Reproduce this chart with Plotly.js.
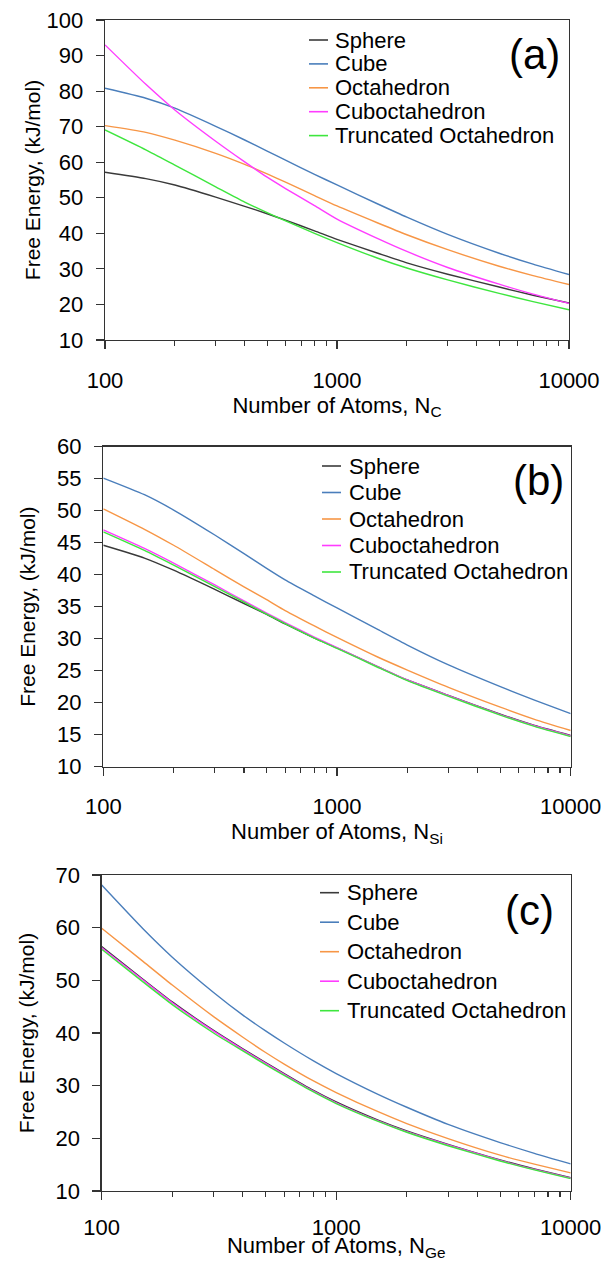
<!DOCTYPE html>
<html><head><meta charset="utf-8">
<script src="https://cdn.plot.ly/plotly-3.0.1.min.js"></script>
<style>html,body{margin:0;padding:0;background:#fff;overflow:hidden}</style>
</head><body><div id="chart" style="width:602px;height:1261px"></div>
<script>
// ---- data ----
const atoms = [100,150,200,300,400,500,600,800,1000,1500,2000,3000,5000,7000,10000];
const seriesNames = ['Sphere','Cube','Octahedron','Cuboctahedron','Truncated Octahedron'];

// (a) carbon
const sphereA = [57.2,55.4,53.6,50.2,47.6,45.5,43.7,40.7,38.3,34.4,31.7,28.5,24.9,22.6,20.4];
const cubeA   = [80.8,78.0,75.2,70.1,66.25,63.15,60.6,56.6,53.6,48.25,44.55,39.7,34.4,31.35,28.4];
const octA    = [70.3,68.4,66.2,62.5,59.4,56.7,54.4,50.6,47.7,42.9,39.6,35.4,30.75,28.1,25.6];
const cuboA   = [93.0,81.9,74.7,65.9,60.1,55.8,52.6,47.8,44.0,38.5,34.9,30.4,25.7,22.9,20.3];
const truncA  = [69.1,63.5,59.2,53.1,48.8,45.8,43.5,40.0,37.4,33.0,30.25,26.9,23.1,20.8,18.5];

// (b) silicon
const sphereB = [44.6,42.6,40.7,37.7,35.5,33.8,32.3,30.1,28.55,25.6,23.55,21.15,18.2,16.45,14.9];
const cubeB   = [55.1,52.5,50.1,46.2,43.3,41.0,39.2,36.7,34.8,31.4,29.0,25.9,22.5,20.4,18.3];
const octB    = [50.3,47.1,44.6,40.8,38.1,36.1,34.4,32.0,30.2,27.1,25.1,22.4,19.3,17.4,15.65];
const cuboB   = [47.0,44.1,41.8,38.4,35.9,34.0,32.5,30.25,28.6,25.6,23.55,21.1,18.15,16.4,14.8];
const truncB  = [46.7,43.8,41.5,38.15,35.7,33.85,32.35,30.1,28.5,25.5,23.45,21.0,18.05,16.3,14.7];

// (c) germanium
const sphereC = [56.4,50.2,45.9,40.5,37.0,34.4,32.3,29.1,26.9,23.5,21.4,18.85,15.9,14.2,12.55];
const cubeC   = [68.1,59.8,54.4,47.7,43.4,40.4,38.1,34.7,32.3,28.4,25.9,22.65,19.2,17.15,15.15];
const octC    = [59.9,53.6,49.1,43.1,39.2,36.3,34.1,30.9,28.7,25.1,22.8,19.95,16.8,15.1,13.45];
const cuboC   = [56.2,50.05,45.75,40.35,36.85,34.25,32.15,28.95,26.75,23.35,21.25,18.75,15.8,14.1,12.45];
const truncC  = [55.9,49.7,45.4,40.0,36.6,34.0,31.95,28.8,26.6,23.25,21.15,18.6,15.7,14.0,12.35];

const xTickVals = [100,1000,10000];
const xTickText = ['100','1000','10000'];
const panelLabels = ['(a)','(b)','(c)'];
const xTitles = ['Number of Atoms, N<sub>C</sub>','Number of Atoms, N<sub>Si</sub>','Number of Atoms, N<sub>Ge</sub>'];
const yTitle = 'Free Energy, (kJ/mol)';
const yRanges = [[10,100],[10,60],[10,70]];
const yDticks = [10,5,10];

// ---- style / layout ----
const colors = ['#3a3a3a','#4a7ebb','#f79646','#ff3cff','#3ee63e'];
const W = 602, H = 1261;
const FONT = 'Liberation Sans, Arial, sans-serif';
const px = v => v / W;
const py = v => 1 - v / H;
// pixel boxes of the three plot areas [left, right, top, bottom]
const boxes = [[105,569,20,340],[103.3,570.7,446.7,766.7],[101.7,570.7,875,1191]];
// legend geometry per panel: first row y, row step, line x0, line x1, text x
const legGeo = [[40,23.9,309,328,333],[466,26.5,322,341,346.7],[892.7,29.5,320,339,345]];
const labelPos = [[534,55],[538,481],[529,910]];
const yTitleStandoff = [0,15,15];
const xLabelStandoff = [12,12,8];

const panels = [
  [sphereA,cubeA,octA,cuboA,truncA],
  [sphereB,cubeB,octB,cuboB,truncB],
  [sphereC,cubeC,octC,cuboC,truncC]
];

const data = [];
const layout = {
  width: W, height: H,
  margin: {l:0,r:0,t:0,b:0},
  paper_bgcolor: '#fff', plot_bgcolor: '#fff',
  showlegend: false,
  font: {family: FONT, size: 22, color: '#000'},
  annotations: [], shapes: []
};

panels.forEach((series, p) => {
  const sfx = p === 0 ? '' : String(p + 1);
  series.forEach((ys, i) => {
    data.push({
      x: atoms, y: ys, type: 'scatter', mode: 'lines', name: seriesNames[i],
      xaxis: 'x' + sfx, yaxis: 'y' + sfx,
      line: {color: colors[i], width: 1.4, shape: 'spline', smoothing: 0.6},
      hoverinfo: 'x+y+name'
    });
  });
  const b = boxes[p];
  layout['xaxis' + sfx] = {
    type: 'log', range: [2, 4], domain: [px(b[0]), px(b[1])],
    anchor: 'y' + sfx,
    tickmode: 'array', tickvals: xTickVals, ticktext: xTickText,
    ticks: 'outside', ticklen: 8, tickwidth: 1.2, tickcolor: '#333',
    minor: {ticks: 'outside', ticklen: 5, tickwidth: 1.1, tickcolor: '#333', dtick: 'D1', showgrid: false},
    ticklabelstandoff: xLabelStandoff[p],
    showline: true, mirror: true, linecolor: '#333', linewidth: 1.3,
    showgrid: false, zeroline: false,
    tickfont: {family: FONT, size: 22, color: '#000'},
    title: {text: xTitles[p], font: {family: FONT, size: 22, color: '#000'}, standoff: 5}
  };
  layout['yaxis' + sfx] = {
    range: yRanges[p], dtick: yDticks[p], tick0: 0,
    domain: [py(b[3]), py(b[2])], anchor: 'x' + sfx,
    ticks: 'outside', ticklen: 8, tickwidth: 1.2, tickcolor: '#333',
    ticklabelstandoff: 8,
    showline: true, mirror: true, linecolor: '#333', linewidth: 1.3,
    showgrid: false, zeroline: false,
    tickfont: {family: FONT, size: 22, color: '#000'},
    title: {text: yTitle, font: {family: FONT, size: 21, color: '#000'}, standoff: yTitleStandoff[p]}
  };
  // legend built from short line shapes and text
  const g = legGeo[p];
  seriesNames.forEach((nm, i) => {
    const yy = g[0] + i * g[1];
    layout.shapes.push({type: 'line', xref: 'paper', yref: 'paper',
      x0: px(g[2]), x1: px(g[3]), y0: py(yy), y1: py(yy),
      line: {color: colors[i], width: 1.6}});
    layout.annotations.push({xref: 'paper', yref: 'paper', x: px(g[4]), y: py(yy),
      xanchor: 'left', yanchor: 'middle', showarrow: false, text: nm,
      font: {family: FONT, size: 22, color: '#000'}});
  });
  layout.annotations.push({xref: 'paper', yref: 'paper', x: px(labelPos[p][0]), y: py(labelPos[p][1]),
    xanchor: 'center', yanchor: 'middle', showarrow: false, text: panelLabels[p],
    font: {family: FONT, size: 42, color: '#000'}});
});

Plotly.newPlot('chart', data, layout, {staticPlot: true});
</script></body></html>
